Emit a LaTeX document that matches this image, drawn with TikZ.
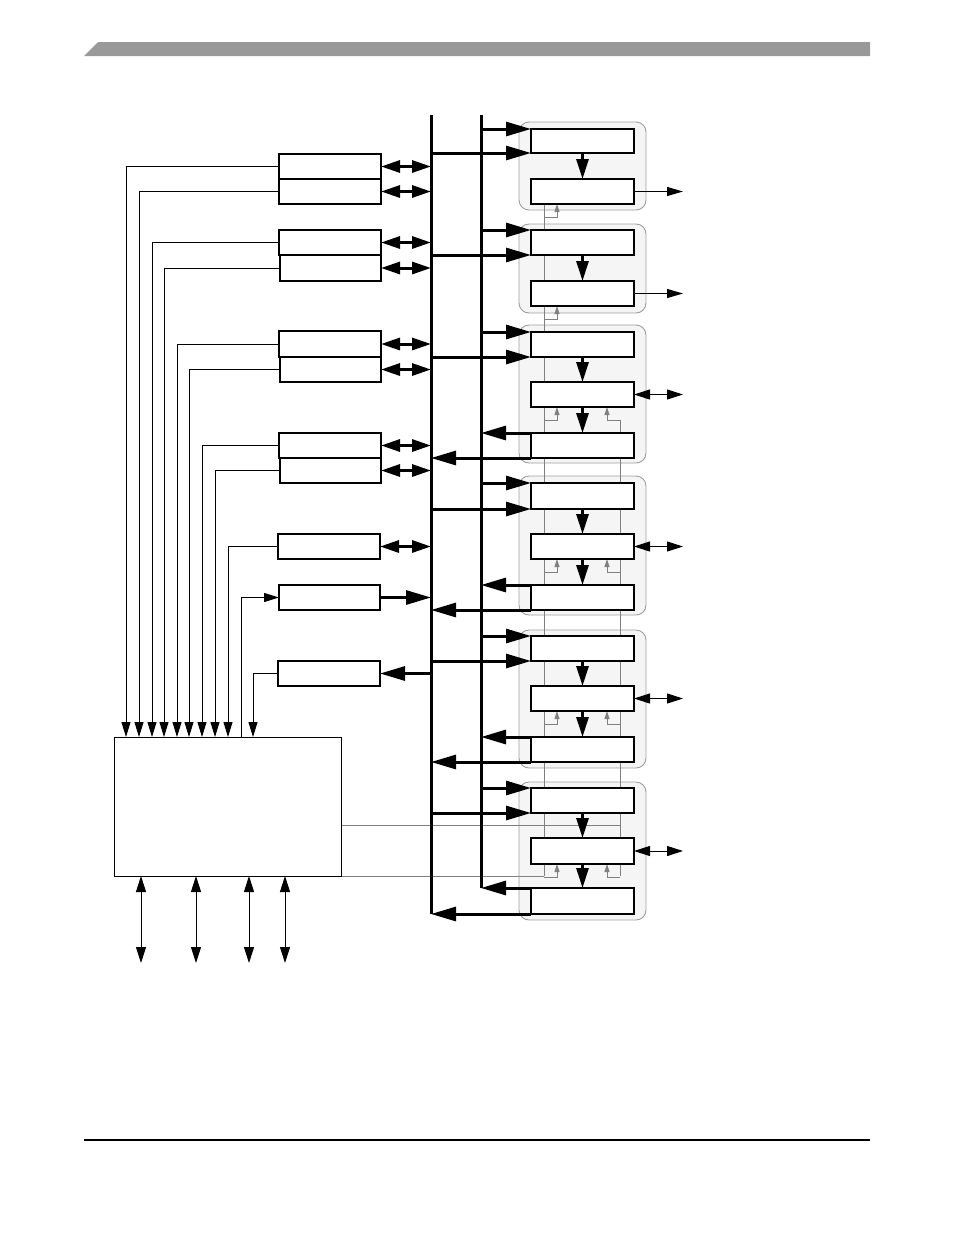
\documentclass[tikz,border=0pt]{standalone}
\usetikzlibrary{arrows.meta,calc}
\pgfdeclarelayer{bg}
\pgfdeclarelayer{mid}
\pgfsetlayers{bg,mid,main}
\newcommand\mkbox[6][]{%
  \pgfmathsetmacro\bxw{#5-#3}%
  \pgfmathsetmacro\bxh{#6-#4}%
  \node[#1,minimum width=\bxw pt,minimum height=\bxh pt] (#2) at ({(#3+#5)/2},{(#4+#6)/2}) {};}
\tikzset{
  box/.style={draw,line width=2.3pt,fill=white,rectangle,inner sep=0pt,outer sep=0pt},
  cpubox/.style={draw,line width=1pt,fill=white,rectangle,inner sep=0pt,outer sep=0pt},
  panel/.style={draw=black!38,line width=0.9pt,fill=black!4,rectangle,rounded corners=10pt,inner sep=0pt,outer sep=0pt},
  bus/.style={line width=3pt},
  bigarr/.style={line width=3pt,-{Triangle[length=25pt,width=14pt]}},
  dblarr/.style={line width=3pt,{Triangle[length=19pt,width=12pt]}-{Triangle[length=19pt,width=12pt]}},
  downarr/.style={line width=3pt,-{Triangle[length=20pt,width=12pt]}},
  thinarr/.style={line width=1pt,-{Triangle[length=16pt,width=9pt]}},
  thindbl/.style={line width=1pt,{Triangle[length=16pt,width=10pt]}-{Triangle[length=16pt,width=10pt]}},
  wirearr/.style={line width=1pt,-{Triangle[length=15pt,width=9pt]}},
  gline/.style={draw=black!50,line width=1pt},
  garr/.style={draw=black!50,line width=1pt,-{Triangle[length=8pt,width=5pt]}},
}
\begin{document}
\begin{tikzpicture}[x=1pt,y=-1pt]
\useasboundingbox (0,0) rectangle (954,1235);
% header bar and footer rule
\fill[black!40] (84,56) -- (98,42) -- (870,42) -- (870,56) -- cycle;
\draw[line width=1.2pt] (84,1140) -- (870,1140);

% panels
\begin{pgfonlayer}{bg}
\mkbox[panel]{P1}{519}{122}{646}{210}
\mkbox[panel]{P2}{519}{224}{646}{313}
\mkbox[panel]{P3}{519}{325}{646}{463}
\mkbox[panel]{P4}{519}{476}{646}{615}
\mkbox[panel]{P5}{519}{630}{646}{768}
\mkbox[panel]{P6}{519}{782}{646}{920}
\end{pgfonlayer}

% left peripheral boxes
\mkbox[box]{L1a}{279}{154}{381}{179}
\mkbox[box]{L1b}{279}{179}{381}{204}
\mkbox[box]{L2a}{279}{230}{381}{255}
\mkbox[box]{L2b}{280}{255}{381}{281}
\mkbox[box]{L3a}{279}{331}{381}{357}
\mkbox[box]{L3b}{280}{357}{381}{382}
\mkbox[box]{L4a}{279}{433}{381}{458}
\mkbox[box]{L4b}{280}{458}{381}{483}
\mkbox[box]{L5}{278}{534}{380}{559}
\mkbox[box]{L6}{279}{585}{380}{610}
\mkbox[box]{L7}{278}{661}{380}{686}

% right blocks
\mkbox[box]{R1a}{531}{129}{634}{153}
\mkbox[box]{R1b}{531}{179}{634}{204}
\mkbox[box]{R2a}{531}{230}{634}{255}
\mkbox[box]{R2b}{531}{281}{634}{306}
\mkbox[box]{R3a}{531}{332}{634}{357}
\mkbox[box]{R3b}{531}{382}{634}{407}
\mkbox[box]{R3c}{531}{433}{634}{458}
\mkbox[box]{R4a}{531}{483}{634}{509}
\mkbox[box]{R4b}{531}{534}{634}{559}
\mkbox[box]{R4c}{531}{585}{634}{610}
\mkbox[box]{R5a}{531}{636}{634}{661}
\mkbox[box]{R5b}{531}{686}{634}{711}
\mkbox[box]{R5c}{531}{737}{634}{762}
\mkbox[box]{R6a}{531}{788}{634}{813}
\mkbox[box]{R6b}{531}{838}{634}{864}
\mkbox[box]{R6c}{531}{888}{634}{914}

% controller box
\mkbox[cpubox]{cpu}{114}{737}{341}{876}

% helper coordinates
\coordinate (b1t) at (431,115);
\coordinate (b2t) at (481,115);
\coordinate (gL) at (544,0);
\coordinate (gR) at (620,0);
\coordinate (oX) at (683,0);
\foreach \k in {1,...,6} {
  \coordinate (br\k) at ($(R\k b.south)+(0,13)$);
}
\coordinate (c1) at ($(cpu.south east)+(0,-51)$);

% gray control lines
\begin{pgfonlayer}{mid}
\draw[gline] (gL |- R1b.south) -- (gL |- cpu.south east);
\draw[gline] (gR |- br3) -- (gR |- cpu.south east);
\draw[gline] (c1) -- (gR |- c1);
\draw[gline] (cpu.south east) -- (gL |- cpu.south east);
\foreach \k in {1,...,6} {
  \draw[garr] (gL |- br\k) -| ($(R\k b.south west)+(26,0)$);
}
\foreach \k in {3,...,6} {
  \draw[garr] (gR |- br\k) -| ($(R\k b.south east)+(-27,0)$);
}
\end{pgfonlayer}

% buses
\draw[bus] (b1t) -- (b1t |- R6c.south west);
\draw[bus] (b2t) -- (b2t |- R6c.north west);

% left boxes to bus
\foreach \n in {L1a,L1b,L2a,L2b,L3a,L3b,L4a,L4b,L5} {
  \draw[dblarr] (\n.east) -- (b1t |- \n.east);
}
\draw[bigarr] (L6.east) -- (b1t |- L6.east);
\draw[bigarr] (b1t |- L7.east) -- (L7.east);

% wires from left boxes to controller
\coordinate (w1) at (126,0);
\coordinate (w2) at (139,0);
\coordinate (w3) at (152,0);
\coordinate (w4) at (164,0);
\coordinate (w5) at (177,0);
\coordinate (w6) at (189,0);
\coordinate (w7) at (202,0);
\coordinate (w8) at (215,0);
\coordinate (w9) at (228,0);
\coordinate (w10) at (241,0);
\coordinate (w11) at (253,0);
\draw[wirearr] (L1a.west) -| (w1 |- cpu.north);
\draw[wirearr] (L1b.west) -| (w2 |- cpu.north);
\draw[wirearr] (L2a.west) -| (w3 |- cpu.north);
\draw[wirearr] (L2b.west) -| (w4 |- cpu.north);
\draw[wirearr] (L3a.west) -| (w5 |- cpu.north);
\draw[wirearr] (L3b.west) -| (w6 |- cpu.north);
\draw[wirearr] (L4a.west) -| (w7 |- cpu.north);
\draw[wirearr] (L4b.west) -| (w8 |- cpu.north);
\draw[wirearr] (L5.west) -| (w9 |- cpu.north);
\draw[wirearr] (w10 |- cpu.north) |- (L6.west);
\draw[wirearr] (L7.west) -| (w11 |- cpu.north);

% controller bottom I/O
\coordinate (d1) at (141,963);
\coordinate (d2) at (196,963);
\coordinate (d3) at (249,963);
\coordinate (d4) at (285,963);
\foreach \d in {d1,d2,d3,d4} {
  \draw[thindbl] (\d |- cpu.south) -- (\d);
}

% block inputs from buses
\foreach \k in {1,...,6} {
  \draw[bigarr] (b2t |- R\k a.north west) -- (R\k a.north west);
  \draw[bigarr] (b1t |- R\k a.south west) -- (R\k a.south west);
  \draw[downarr] (R\k a.south) -- (R\k b.north);
}
% block outputs
\draw[thinarr] (R1b.east) -- (oX |- R1b.east);
\draw[thinarr] (R2b.east) -- (oX |- R2b.east);
\foreach \k in {3,...,6} {
  \draw[downarr] (R\k b.south) -- (R\k c.north);
  \draw[thindbl] (R\k b.east) -- (oX |- R\k b.east);
  \draw[bigarr] (R\k c.north west) -- (b2t |- R\k c.north west);
  \draw[bigarr] (R\k c.south west) -- (b1t |- R\k c.south west);
}
\end{tikzpicture}
\end{document}
